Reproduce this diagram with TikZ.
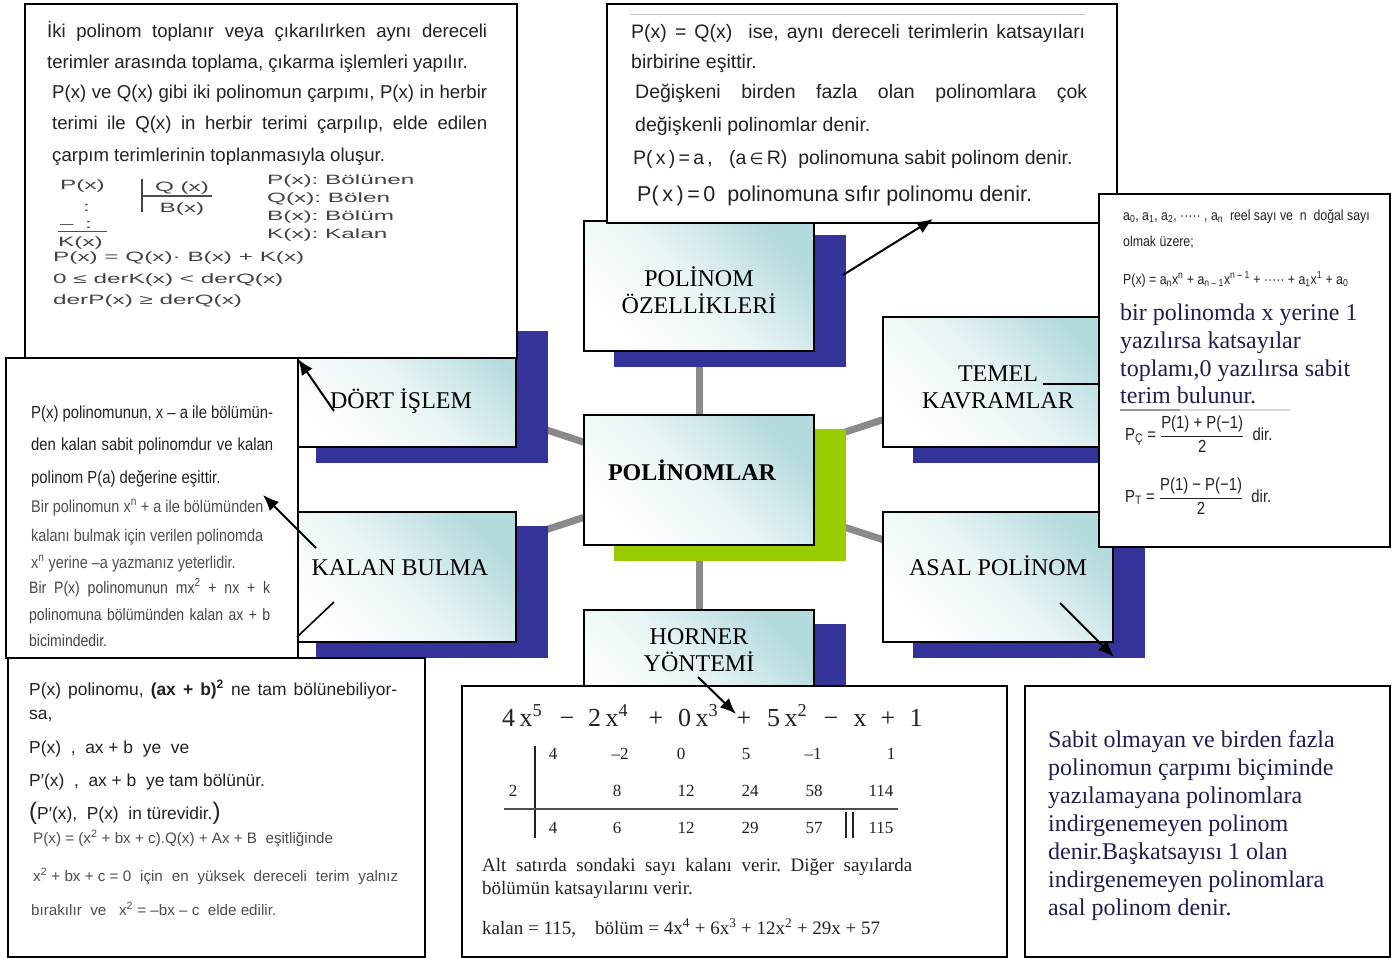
\documentclass[tikz,border=0pt]{standalone}
\usepackage{fontspec}
\setmainfont{Liberation Serif}
\setsansfont{Liberation Sans}
\newfontfamily\arialf{Liberation Sans}
\newfontfamily\arwide[FakeStretch=1.8]{Liberation Sans}
\newfontfamily\arnarrow[FakeStretch=0.85]{Liberation Sans}
\newfontfamily\dvsf{DejaVu Sans}
\newfontfamily\timesf{Liberation Serif}
\usetikzlibrary{arrows.meta}
\pgfdeclarelayer{connlayer}
\pgfdeclarelayer{shadlayer}
\pgfsetlayers{connlayer,shadlayer,main}
\definecolor{bluesh}{HTML}{333399}
\definecolor{greensh}{HTML}{99CC00}
\definecolor{tealbox}{HTML}{B3DADD}
\definecolor{ink}{HTML}{222222}
\definecolor{navyink}{HTML}{1E1E55}
\definecolor{conngray}{HTML}{8A8A8A}
\newcommand\jline[2]{\makebox[#1][s]{#2}}
\tikzset{
  conn/.style={line width=7pt, draw=conngray},
  concept/.style={draw=black, line width=2pt, minimum width=230pt, minimum height=130pt, inner sep=0pt,
     top color=tealbox, bottom color=white, middle color=tealbox!30!white, shading angle=-45},
  textbox/.style={draw=black, line width=2pt, fill=white, inner sep=0pt, anchor=north west},
  clabel/.style={font=\fontsize{24}{27}\selectfont\timesf, align=center, text=black, inner sep=0pt},
  tx/.style={anchor=base west, inner sep=0pt, text=ink},
  arrowline/.style={line width=2pt, draw=black, -{Latex[length=16pt,width=13pt]}},
  plainline/.style={line width=1.6pt, draw=black},
  sansA/.style={font=\fontsize{18.6}{21}\selectfont\arialf},
  sansB/.style={font=\fontsize{19.5}{22}\selectfont\arialf},
  divw/.style={font=\fontsize{13.5}{16}\selectfont\arwide, text=ink!85},
  narA/.style={font=\fontsize{17.5}{20}\selectfont\arnarrow},
  narB/.style={font=\fontsize{17}{19}\selectfont\arnarrow, text=ink!80},
  narC/.style={font=\fontsize{16.5}{18}\selectfont\arnarrow, text=ink!85},
  narS/.style={font=\fontsize{14.5}{16}\selectfont\arnarrow},
  sansE/.style={font=\fontsize{17.4}{20}\selectfont\arialf},
  sansF/.style={font=\fontsize{15.2}{18}\selectfont\arialf, text=ink!80},
  serifR/.style={font=\fontsize{24}{28}\selectfont\timesf, text=navyink},
  hnum/.style={anchor=base, inner sep=0pt, font=\fontsize{17}{20}\selectfont\timesf, text=ink},
  poly/.style={anchor=base west, inner sep=0pt, font=\fontsize{26}{30}\selectfont\timesf, text=ink},
  polyop/.style={anchor=base, inner sep=0pt, font=\fontsize{26}{30}\selectfont\timesf, text=ink},
  serifT/.style={font=\fontsize{19}{22}\selectfont\timesf},
  formula/.style={anchor=west, inner sep=0pt, text=ink, font=\fontsize{17.5}{20}\selectfont\arnarrow},
}
\begin{document}
\frenchspacing
\begin{tikzpicture}[x=1pt,y=-1pt]
\useasboundingbox (0,0) rectangle (1397,958);
% ---------- concept boxes ----------
\node[concept] (ozel) at (699,286) {};
\node[concept] (polin) at (699,480) {};
\node[concept] (dort) at (400.5,382) {};
\node[concept] (kalan) at (400.5,577) {};
\node[concept] (temel) at (998,382) {};
\node[concept] (asal) at (998,577) {};
\node[concept] (horner) at (699,675) {};
\begin{pgfonlayer}{shadlayer}
\foreach \n in {ozel,dort,kalan,temel,asal,horner}{
  \fill[bluesh] ([xshift=31pt,yshift=-15pt]\n.south west) rectangle ([xshift=31pt,yshift=-15pt]\n.north east);
}
\fill[greensh] ([xshift=31pt,yshift=-15pt]polin.south west) rectangle ([xshift=31pt,yshift=-15pt]polin.north east);
\end{pgfonlayer}
\begin{pgfonlayer}{connlayer}
\foreach \n in {ozel,dort,kalan,temel,asal,horner}{
  \draw[conn] (polin.center) -- (\n.center);
}
\end{pgfonlayer}
\node[clabel] (lozel) at (699,290) {POLİNOM\\ÖZELLİKLERİ};
\node[clabel] (ldort) at (401,401) {DÖRT İŞLEM};
\node[clabel, font=\fontsize{24}{27}\selectfont\timesf\bfseries] (lpolin) at (692,470) {POLİNOMLAR};
\node[clabel] (ltemel) at (998,387) {TEMEL\\KAVRAMLAR};
\node[clabel] (lkalan) at (400,568) {KALAN BULMA};
\node[clabel] (lasal) at (998,566) {ASAL POLİNOM};
\node[clabel] (lhorner) at (699,650) {HORNER\\YÖNTEMİ};

% ---------- text boxes ----------
\node[textbox, minimum width=492pt, minimum height=354pt] (tbA) at (24,3) {};
\node[textbox, minimum width=510pt, minimum height=219pt] (tbB) at (606,3) {};
\node[textbox, minimum width=291pt, minimum height=353pt] (tbC) at (1098,193) {};
\node[textbox, minimum width=292pt, minimum height=300pt] (tbD) at (5,357) {};
\node[textbox, minimum width=417pt, minimum height=299pt] (tbE) at (7,657) {};
\node[textbox, minimum width=545pt, minimum height=271pt] (tbF) at (461,685) {};
\node[textbox, minimum width=365pt, minimum height=271pt] (tbG) at (1024,685) {};

% --- top-left text ---
\node[tx, sansA] (a1) at (47,38) {\jline{440pt}{İki polinom toplanır veya çıkarılırken aynı dereceli}};
\node[tx, sansA] (a2) at (47,69) {terimler arasında toplama, çıkarma işlemleri yapılır.};
\node[tx, sansA] (a3) at (52,98) {\jline{435pt}{P(x) ve Q(x) gibi iki polinomun çarpımı, P(x) in herbir}};
\node[tx, sansA] (a4) at (52,129) {\jline{435pt}{terimi ile Q(x) in herbir terimi çarpılıp, elde edilen}};
\node[tx, sansA] (a5) at (52,161) {çarpım terimlerinin toplanmasıyla oluşur.};
% division scheme
\node[tx, divw] (d1) at (60,189) {P(x)};
\node[tx, divw] (d2) at (83,211) {:};
\node[tx, divw] (d3) at (60,228) {–};
\node[tx, divw] (d4) at (85,228) {:};
\draw[line width=0.9pt, ink!80] (58,231) -- (107,231);
\node[tx, divw] (d5) at (58,246) {K(x)};
\draw[line width=1.4pt, ink!85] (142,179) -- (142,212);
\draw[line width=1.2pt, ink!80] (142,196) -- (212,196);
\node[divw, anchor=base, inner sep=0pt] (d6) at (182,191) {Q (x)};
\node[divw, anchor=base, inner sep=0pt] (d7) at (182,212) {B(x)};
\node[tx, divw] (d8) at (267,184) {P(x): Bölünen};
\node[tx, divw] (d9) at (267,202) {Q(x): Bölen};
\node[tx, divw] (d10) at (267,220) {B(x): Bölüm};
\node[tx, divw] (d11) at (267,238) {K(x): Kalan};
\node[tx, divw] (d12) at (53,261) {P(x) = Q(x)· B(x) + K(x)};
\node[tx, divw] (d13) at (53,283) {0 ≤ derK(x) < derQ(x)};
\node[tx, divw] (d14) at (53,304) {derP(x) ≥ derQ(x)};

% --- top-center text ---
\draw[line width=1pt, gray!45] (630,15) -- (1085,15);
\node[tx, sansB] (b1) at (631,39) {\jline{454pt}{P(x) = Q(x)\ \ ise, aynı dereceli terimlerin katsayıları}};
\node[tx, sansB] (b2) at (631,68) {birbirine eşittir.};
\node[tx, sansB] (b3) at (635,98) {\jline{452pt}{Değişkeni birden fazla olan polinomlara çok}};
\node[tx, sansB] (b4) at (635,131) {değişkenli polinomlar denir.};
\node[tx, sansB] (b5) at (633,164) {P(\,x\,)\,=\,a\,,\ \ \ (a\,{\dvsf\fontsize{16}{18}\selectfont ∈}\,R)\ \ polinomuna sabit polinom denir.};
\node[tx, sansB, font=\fontsize{21.5}{24}\selectfont\arialf] (b6) at (637,201) {P(\,x\,)\,=\,0\ \ polinomuna sıfır polinomu denir.};

% --- right text ---
\node[tx, narS] (c1) at (1123,220) {a\textsubscript{0}, a\textsubscript{1}, a\textsubscript{2}, ····· , a\textsubscript{n}\ \ reel sayı ve\ \ n\ \ doğal sayı};
\node[tx, narS] (c2) at (1123,246) {olmak üzere;};
\node[tx, narS] (c3) at (1123,284) {P(x) = a\textsubscript{n}x\textsuperscript{n} + a\textsubscript{n – 1}x\textsuperscript{n – 1} + ····· + a\textsubscript{1}x\textsuperscript{1} + a\textsubscript{0}};
\node[tx, serifR] (c4) at (1120,320) {bir polinomda x yerine 1};
\node[tx, serifR] (c5) at (1120,348) {yazılırsa katsayılar};
\node[tx, serifR] (c6) at (1120,376) {toplamı,0 yazılırsa sabit};
\node[tx, serifR] (c7) at (1120,403) {terim bulunur.};
\draw[line width=2pt, gray!30] (1120,410) -- (1290,410);
\draw[line width=2pt, gray!80] (1120,410) -- (1180,410);
\node[formula] (c8) at (1125,434)
  {P\textsubscript{Ç} = $\displaystyle\frac{\hbox{P(1) + P(−1)}}{\hbox{2}}$\ \ dir.};
\node[formula] (c9) at (1125,496)
  {P\textsubscript{T} = $\displaystyle\frac{\hbox{P(1) − P(−1)}}{\hbox{2}}$\ \ dir.};

% --- left-middle text ---
\node[tx, narA] (e1) at (31,418) {\jline{242pt}{P(x) polinomunun, x – a ile bölümün-}};
\node[tx, narA] (e2) at (31,450) {\jline{242pt}{den kalan sabit polinomdur ve kalan}};
\node[tx, narA] (e3) at (31,483) {polinom P(a) değerine eşittir.};
\node[tx, narB] (e4) at (31,512) {Bir polinomun x\textsuperscript{n} + a ile bölümünden};
\node[tx, narB] (e5) at (31,541) {kalanı bulmak için verilen polinomda};
\node[tx, narB] (e6) at (31,568) {x\textsuperscript{n} yerine –a yazmanız yeterlidir.};
\node[tx, narC] (e7) at (29,593) {\jline{241pt}{Bir P(x) polinomunun mx\textsuperscript{2} + nx + k}};
\node[tx, narC] (e8) at (29,620) {\jline{241pt}{polinomuna bölümünden kalan ax + b}};
\node[tx, narC] (e9) at (29,646) {bicimindedir.};

% --- bottom-left text ---
\node[tx, sansE] (f1) at (29,695) {\jline{368pt}{P(x) polinomu, \textbf{(ax + b)\textsuperscript{2}} ne tam bölünebiliyor-}};
\node[tx, sansE] (f2) at (29,719) {sa,};
\node[tx, sansE] (f3) at (29,753) {P(x)\ \ ,\ \ ax + b\ \ ye\ \ ve};
\node[tx, sansE] (f4) at (29,786) {P′(x)\ \ ,\ \ ax + b\ \ ye tam bölünür.};
\node[tx, sansE] (f5) at (29,819) {{\fontsize{24}{24}\selectfont(}P′(x),\ \ P(x)\ \ in türevidir.{\fontsize{24}{24}\selectfont)}};
\node[tx, sansF] (f6) at (33,843) {P(x) = (x\textsuperscript{2} + bx + c).Q(x) + Ax + B\ \ eşitliğinde};
\node[tx, sansF] (f7) at (33,881) {\jline{365pt}{\hbox{x\textsuperscript{2} + bx + c = 0} için en yüksek dereceli terim yalnız}};
\node[tx, sansF] (f8) at (31,915) {bırakılır\ \ ve\ \ \ x\textsuperscript{2} = –bx – c\ \ elde edilir.};

% --- bottom-center (Horner) ---
\node[poly] (p1) at (502,726) {4\,x\textsuperscript{5}};
\node[polyop] (p2) at (567,726) {−};
\node[poly] (p3) at (588,726) {2\,x\textsuperscript{4}};
\node[polyop] (p4) at (656,726) {+};
\node[poly] (p5) at (678,726) {0\,x\textsuperscript{3}};
\node[polyop] (p6) at (744,726) {+};
\node[poly] (p7) at (767,726) {5\,x\textsuperscript{2}};
\node[polyop] (p8) at (831,726) {−};
\node[polyop] (p9) at (860,726) {x};
\node[polyop] (p10) at (888,726) {+};
\node[polyop] (p11) at (916,726) {1};
\foreach \xx/\vv [count=\i] in {553/4,620/–2,681/0,746/5,813/–1,891/1}
  \node[hnum] (ha\i) at (\xx,759) {\vv};
\foreach \xx/\vv [count=\i] in {513/2,617/8,686/12,750/24,814/58,881/114}
  \node[hnum] (hb\i) at (\xx,796) {\vv};
\foreach \xx/\vv [count=\i] in {553/4,617/6,686/12,750/29,814/57,881/115}
  \node[hnum] (hc\i) at (\xx,833) {\vv};
\draw[line width=1.4pt, ink] (535,746) -- (535,838);
\draw[line width=1.2pt, ink!80] (504,809) -- (898,809);
\draw[line width=1.2pt, ink] (846,812) -- (846,838);
\draw[line width=1.2pt, ink] (853,812) -- (853,838);
\node[tx, serifT] (g1) at (482,871) {\jline{430pt}{Alt satırda sondaki sayı kalanı verir. Diğer sayılarda}};
\node[tx, serifT] (g2) at (482,894) {bölümün katsayılarını verir.};
\node[tx, serifT, font=\fontsize{19}{21}\selectfont\timesf] (g3) at (482,934) {kalan = 115,\ \ \ \ bölüm = 4x\textsuperscript{4} + 6x\textsuperscript{3} + 12x\textsuperscript{2} + 29x + 57};

% --- bottom-right text ---
\foreach \ln [count=\i] in {Sabit olmayan ve birden fazla,polinomun çarpımı biçiminde,yazılamayana polinomlara,indirgenemeyen polinom,denir.Başkatsayısı 1 olan,indirgenemeyen polinomlara,asal polinom denir.}
  \node[tx, serifR] (h\i) at (1048,{747+28*(\i-1)}) {\ln};

% ---------- arrows ----------
\coordinate (ozelS) at (843,275);
\coordinate (tbBtip) at (933,219);
\draw[arrowline] (ozelS) -- (tbBtip);
\coordinate (dortS) at (334,411);
\coordinate (tbAtip) at (298,359);
\draw[arrowline] (dortS) -- (tbAtip);
\coordinate (kalanS) at (316,548);
\coordinate (tbDtip) at (263,495);
\draw[arrowline] (kalanS) -- (tbDtip);
\coordinate (kalanL) at (334,602);
\coordinate (kalanE) at (297,637);
\draw[plainline] (kalanL) -- (kalanE);
\coordinate (temelL) at (1043,384);
\coordinate (temelE) at (1098,384);
\draw[plainline] (temelL) -- (temelE);
\coordinate (asalS) at (1060,603);
\coordinate (asalT) at (1114,657);
\draw[arrowline] (asalS) -- (asalT);
\coordinate (hornerS) at (698,677);
\coordinate (tbFtip) at (736,714);
\draw[arrowline] (hornerS) -- (tbFtip);
\end{tikzpicture}
\end{document}
